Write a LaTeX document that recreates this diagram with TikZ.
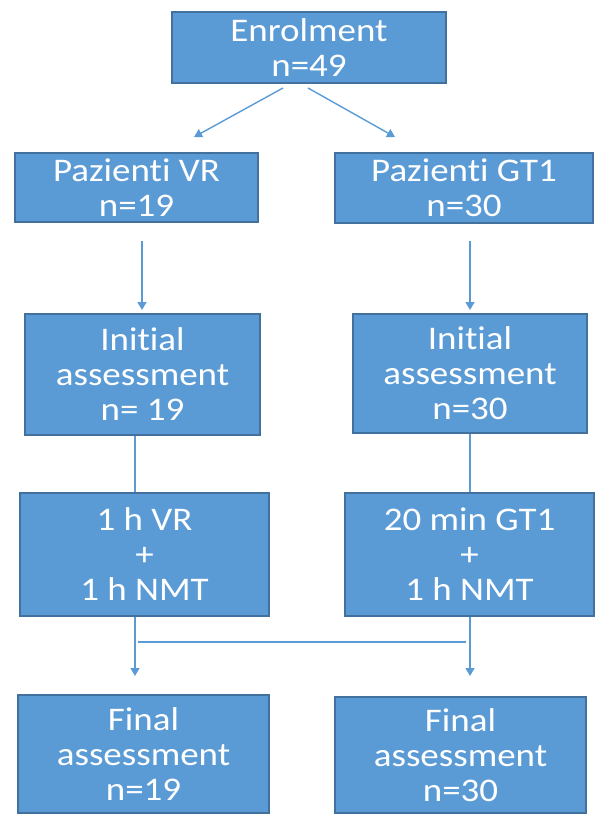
\documentclass[tikz,border=0pt]{standalone}
\usepackage{fontspec}
\setmainfont{Carlito}[FakeStretch=1.12, Ligatures=CommonOff]
\usetikzlibrary{arrows.meta,calc}
\definecolor{boxfill}{HTML}{5B9BD5}
\definecolor{boxline}{HTML}{41719C}
\definecolor{arrowc}{HTML}{5B9BD5}
\tikzset{
  flowbox/.style={draw=boxline, line width=1.2pt, fill=boxfill, text=white,
    align=center, inner sep=0pt, font=\fontsize{33}{35}\selectfont},
  conn/.style={draw=arrowc, line width=1.4pt},
  arr/.style={conn, -{Triangle[width=9pt,length=8pt]}}
}
\begin{document}
\begin{tikzpicture}[x=1pt,y=-1pt]
\useasboundingbox (0,0) rectangle (595,816);
\node[flowbox, minimum width=274pt, minimum height=71pt] (enrol) at (309,47.5) {Enrolment\\n=49};
\node[flowbox, minimum width=243pt, minimum height=69pt] (pvr) at (136.5,187.5) {Pazienti VR\\n=19};
\node[flowbox, minimum width=258pt, minimum height=70pt] (pgt) at (464,188) {Pazienti GT1\\n=30};
\node[flowbox, minimum width=235pt, minimum height=121pt] (ivr) at (142.5,374.5) {Initial\\assessment\\n= 19};
\node[flowbox, minimum width=234pt, minimum height=119pt] (igt) at (470,373.5) {Initial\\assessment\\n=30};
\node[flowbox, minimum width=249pt, minimum height=123pt] (tvr) at (144.5,554.5) {1 h VR\\+\\1 h NMT};
\node[flowbox, minimum width=249pt, minimum height=123pt] (tgt) at (469.5,554.5) {20 min GT1\\+\\1 h NMT};
\node[flowbox, minimum width=251pt, minimum height=118pt] (fvr) at (143.5,754) {Final\\assessment\\n=19};
\node[flowbox, minimum width=251pt, minimum height=116pt] (fgt) at (460.5,755) {Final\\assessment\\n=30};
% connector end points
\coordinate (e1) at (283,88);
\coordinate (e1t) at (194,137);
\coordinate (e2) at (308,88);
\coordinate (e2t) at (395,137);
\coordinate (p1) at (142,241);
\coordinate (p1t) at (142,310);
\coordinate (p2) at (470,241);
\coordinate (p2t) at (470,310);
\coordinate (t1t) at (135,676);
\coordinate (t2t) at (470,676);
\coordinate (h1) at (138,642);
\coordinate (h2) at (466,642);
\draw[arr] (e1) -- (e1t);
\draw[arr] (e2) -- (e2t);
\draw[arr] (p1) -- (p1t);
\draw[arr] (p2) -- (p2t);
\draw[conn] (ivr.south -| 135,0) -- (tvr.north -| 135,0);
\draw[conn] (igt.south -| 470,0) -- (tgt.north -| 470,0);
\draw[arr] (tvr.south -| t1t) -- (t1t);
\draw[arr] (tgt.south -| t2t) -- (t2t);
\draw[conn] (h1) -- (h2);
\end{tikzpicture}
\end{document}
